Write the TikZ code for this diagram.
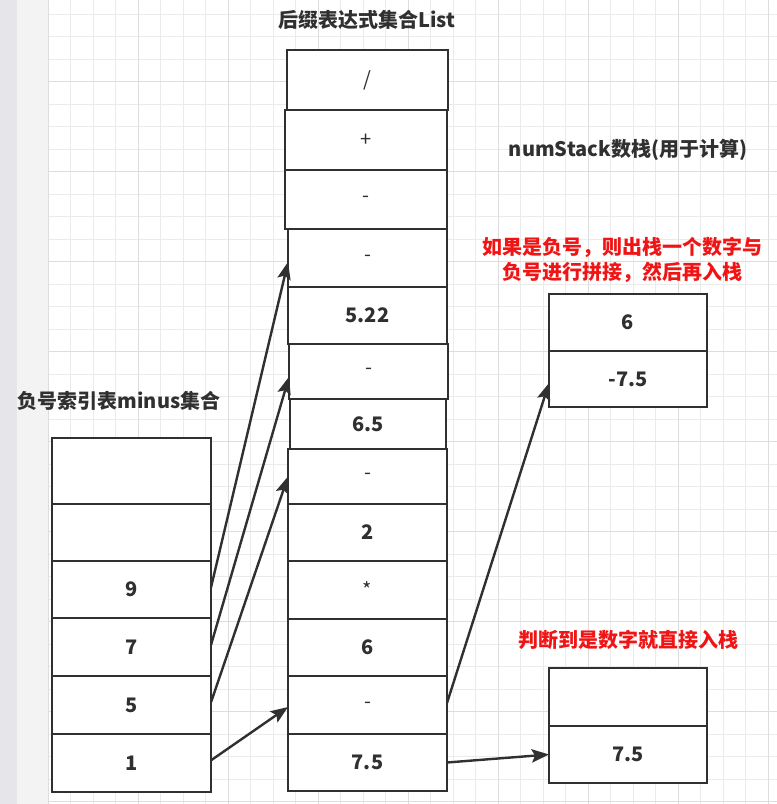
\documentclass[tikz,border=0pt]{standalone}
\usepackage{fontspec}
\newfontfamily\cjk{Noto Sans CJK SC}
\usetikzlibrary{arrows.meta}
\definecolor{ink}{HTML}{303030}
\definecolor{redtxt}{HTML}{F01414}
\definecolor{gridminor}{HTML}{EBEBEB}
\definecolor{gridmajor}{HTML}{DDDDDD}
\definecolor{stripdark}{HTML}{E6E6EA}
\definecolor{striplight}{HTML}{F3F3F3}
\newcommand{\optxt}{\mdseries}
\newcommand{\mkcell}[6]{%
  \pgfmathsetmacro\cellw{(#4-#2)*0.75}%
  \pgfmathsetmacro\cellh{(#5-#3)*0.75}%
  \node[cell,minimum width=\cellw pt,minimum height=\cellh pt] (#1) at ({(#2+#4)/2},{(#3+#5)/2}) {#6};}
\tikzset{
  cell/.style={draw=ink,fill=white,line width=1.9pt,rectangle,inner sep=0pt,outer sep=0pt,
    font=\cjk\bfseries\fontsize{15}{18}\selectfont,text=ink},
  title/.style={font=\cjk\bfseries\fontsize{15}{18}\selectfont,text=ink,inner sep=0pt},
  note/.style={font=\cjk\bfseries\fontsize{15}{18.75}\selectfont,text=redtxt,inner sep=0pt,align=center},
  link/.style={draw=ink,line width=1.8pt,-{Stealth[length=13pt,width=10pt,inset=2.5pt]}}
}
\begin{document}
\begin{tikzpicture}[x=0.75pt,y=-0.75pt]
\useasboundingbox (0,0) rectangle (777,804);
% background
\fill[white] (0,0) rectangle (777,804);
\fill[stripdark] (0,0) rectangle (17,804);
\fill[striplight] (17,0) rectangle (48.3,804);
\foreach \k in {0,...,32} {
  \pgfmathsetmacro\gx{48.3+22.5*\k}
  \draw[gridminor,line width=0.75pt] (\gx,0) -- (\gx,804);
}
\foreach \k in {-3,...,32} {
  \pgfmathsetmacro\gy{81.7+22.5*\k}
  \draw[gridminor,line width=0.75pt] (48.3,\gy) -- (777,\gy);
}
\foreach \k in {0,...,8} {
  \pgfmathsetmacro\gx{48.3+90*\k}
  \draw[gridmajor,line width=0.75pt] (\gx,0) -- (\gx,804);
}
\foreach \k in {-1,...,8} {
  \pgfmathsetmacro\gy{81.7+90*\k}
  \draw[gridmajor,line width=0.75pt] (48.3,\gy) -- (777,\gy);
}
% titles
\node[title] (tlist) at (367,20) {后缀表达式集合List};
\node[title] (tminus) at (119,401) {负号索引表minus集合};
\node[title] (tstack) at (628,150) {numStack数栈(用于计算)};
\node[note] (note1) at (622,260) {如果是负号，则出栈一个数字与\\负号进行拼接，然后再入栈};
\node[note] (note2) at (628,640) {判断到是数字就直接入栈};
% middle column
\mkcell{m1}{287}{50}{448}{110}{\optxt /}
\mkcell{m2}{285}{110}{447}{170}{\optxt +}
\mkcell{m3}{285}{170}{447}{229}{\optxt -}
\mkcell{m4}{288}{229}{447}{287}{\optxt -}
\mkcell{m5}{288}{287}{447}{344}{5.22}
\mkcell{m6}{289}{344}{448}{399}{\optxt -}
\mkcell{m7}{290}{399}{446}{449}{6.5}
\mkcell{m8}{288}{449}{447}{504}{\optxt -}
\mkcell{m9}{288}{504}{447}{561}{2}
\mkcell{m10}{288}{561}{447}{619}{\optxt *}
\mkcell{m11}{288}{619}{447}{676}{6}
\mkcell{m12}{288}{676}{447}{734}{\optxt -}
\mkcell{m13}{288}{734}{447}{791}{7.5}
% left column
\mkcell{l1}{52}{438}{211}{504}{}
\mkcell{l2}{52}{504}{211}{561}{}
\mkcell{l3}{52}{561}{211}{618}{9}
\mkcell{l4}{52}{618}{211}{676}{7}
\mkcell{l5}{52}{676}{211}{734}{5}
\mkcell{l6}{52}{734}{211}{792}{1}
% right stacks
\mkcell{s1}{549}{294}{707}{351}{6}
\mkcell{s2}{549}{351}{707}{407}{-7.5}
\mkcell{b1}{549}{668}{707}{726}{}
\mkcell{b2}{549}{726}{707}{783}{7.5}
% connectors
\draw[link] ([yshift=1.5pt]l3.east) -- ([yshift=-3pt]m4.west);
\draw[link] ([yshift=1.5pt]l4.east) -- ([yshift=-4pt]m6.west);
\draw[link] ([yshift=2pt]l5.east) -- (m8.west);
\draw[link] ([yshift=2pt]l6.east) -- ([yshift=-1.5pt]m12.west);
\draw[link] ([yshift=1.5pt]m12.east) -- ([yshift=-3pt]s2.west);
\draw[link] (m13.east) -- (b2.west);
\end{tikzpicture}
\end{document}
